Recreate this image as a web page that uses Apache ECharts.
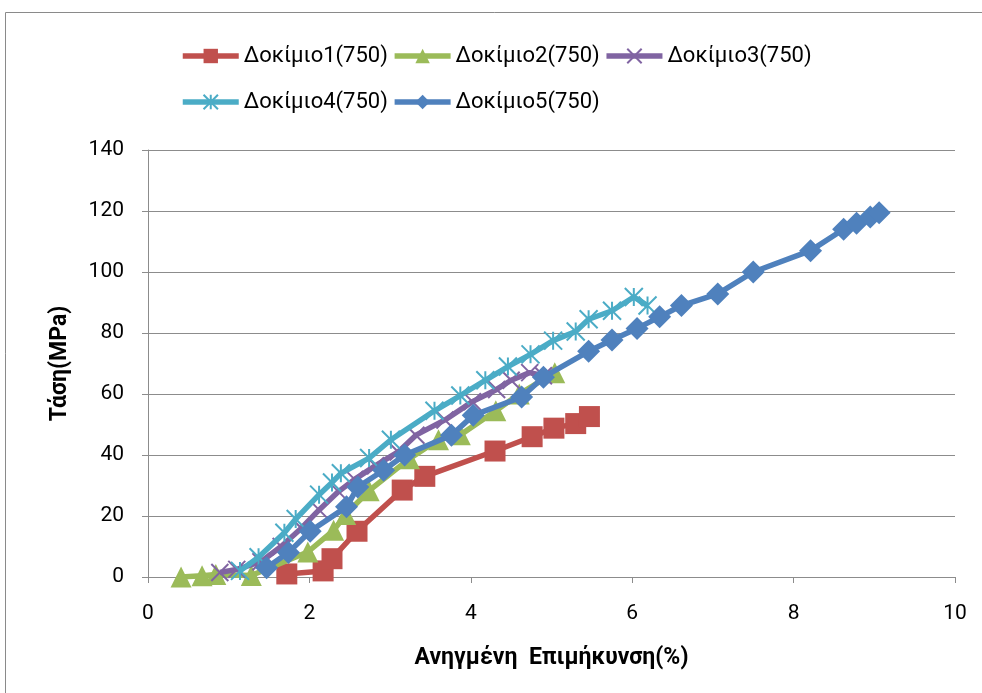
<!DOCTYPE html>
<html>
<head>
<meta charset="utf-8">
<script src="https://cdn.jsdelivr.net/npm/echarts@6/dist/echarts.min.js"></script>
<style>
  html, body { margin: 0; padding: 0; background: #ffffff; }
  #chart { width: 982px; height: 693px; }
</style>
</head>
<body>
<div id="chart"></div>
<script>
// Tensile test curves: stress vs. normalised elongation for five specimens
const seriesNames = ['Δοκίμιο1(750)', 'Δοκίμιο2(750)', 'Δοκίμιο3(750)', 'Δοκίμιο4(750)', 'Δοκίμιο5(750)'];

const specimen1 = [[1.72, 1], [2.17, 2], [2.28, 6], [2.59, 15], [3.15, 28.5], [3.43, 33], [4.30, 41.3], [4.76, 46], [5.03, 48.8], [5.30, 50.3], [5.47, 52.6]];
const specimen2 = [[0.41, 0], [0.67, 0.4], [0.84, 0.8], [1.28, 0.5], [1.98, 8.2], [2.30, 15.3], [2.45, 20.5], [2.74, 28.3], [3.24, 38.8], [3.60, 45], [3.87, 46.6], [4.31, 54.5], [4.60, 60], [5.04, 67]];
const specimen3 = [[0.89, 1.5], [1.10, 2.5], [1.40, 5], [1.65, 10], [1.90, 16], [2.12, 22], [2.36, 28], [2.56, 32], [2.82, 36.5], [3.10, 41], [3.32, 46.5], [3.68, 51.5], [4.02, 57.5], [4.32, 61.5], [4.50, 64.5], [4.73, 67], [4.90, 66]];
const specimen4 = [[1.14, 2], [1.37, 6.5], [1.69, 14.5], [1.83, 19], [2.12, 27], [2.28, 31], [2.39, 34], [2.74, 39], [3.01, 45], [3.55, 54.5], [3.87, 59.5], [4.18, 64.5], [4.46, 69], [4.74, 73], [5.02, 77.5], [5.30, 80.5], [5.46, 84.5], [5.75, 87.3], [6.02, 91.8], [6.19, 89]];
const specimen5 = [[1.47, 3], [1.74, 8], [2.01, 15], [2.46, 23], [2.60, 29.5], [2.92, 35], [3.18, 40], [3.76, 46.5], [4.03, 53], [4.63, 59], [4.90, 65.5], [5.46, 74], [5.75, 77.7], [6.06, 81.5], [6.34, 85.3], [6.61, 89], [7.06, 92.8], [7.50, 100], [8.21, 107], [8.62, 114], [8.78, 116], [8.95, 118], [9.06, 119.4]];

const xTicks = { min: 0, max: 10, interval: 2 };
const yTicks = { min: 0, max: 140, interval: 20 };

const colors = ['#C0504D', '#9BBB59', '#8064A2', '#4BACC6', '#4F81BD'];
const symbols = [
  'rect',
  'triangle',
  'path://M0,0L10,10M10,0L0,10',
  'path://M5,0L5,10M0,0L10,10M10,0L0,10',
  'diamond'
];
const symbolSizes = [21, 21, 17, 18, 23];
const strokeSymbol = [false, false, true, true, false];
const dataSets = [specimen1, specimen2, specimen3, specimen4, specimen5];

const font = 'Roboto, "Noto Sans", sans-serif';
const gridColor = '#8c8c8c';

const chart = echarts.init(document.getElementById('chart'));

const series = dataSets.map((d, i) => ({
  name: seriesNames[i],
  type: 'line',
  data: d,
  symbol: symbols[i],
  symbolSize: symbolSizes[i],
  showAllSymbol: true,
  lineStyle: { color: colors[i], width: 5.5 },
  itemStyle: strokeSymbol[i]
    ? { color: 'rgba(0,0,0,0)', borderColor: colors[i], borderWidth: 2, opacity: 1 }
    : { color: colors[i], borderColor: colors[i], borderWidth: 0 },
  emphasis: { disabled: true },
  animation: false,
  z: 2 + i
}));

const legendText = { fontFamily: font, fontSize: 22, color: '#000' };
const legendCommon = {
  padding: 0,
  itemWidth: 56, itemHeight: 18, itemGap: 4,
  textStyle: legendText,
  lineStyle: { width: 5.5 },
  selectedMode: false
};

chart.setOption({
  backgroundColor: '#ffffff',
  animation: false,
  color: colors,
  graphic: [{
    type: 'rect',
    shape: { x: 5.5, y: 12.5, width: 1000, height: 700 },
    style: { fill: 'none', stroke: '#8a8a8a', lineWidth: 1 },
    silent: true
  }],
  legend: [
    Object.assign({ data: seriesNames.slice(0, 3), left: 180, top: 45 }, legendCommon),
    Object.assign({ data: seriesNames.slice(3), left: 180, top: 91 }, legendCommon)
  ],
  grid: { left: 148, right: 27, top: 150, bottom: 116, containLabel: false },
  xAxis: {
    type: 'value',
    min: xTicks.min, max: xTicks.max, interval: xTicks.interval,
    name: 'Ανηγμένη  Επιμήκυνση(%)',
    nameLocation: 'middle',
    nameGap: 70,
    nameTextStyle: { fontFamily: font, fontSize: 23, fontWeight: 'bold', color: '#000' },
    axisLine: { show: true, onZero: false, lineStyle: { color: gridColor, width: 1 } },
    axisTick: { show: true, inside: false, length: 6, lineStyle: { color: gridColor } },
    axisLabel: { fontFamily: font, fontSize: 21, color: '#000', margin: 26 },
    splitLine: { show: false }
  },
  yAxis: {
    type: 'value',
    min: yTicks.min, max: yTicks.max, interval: yTicks.interval,
    name: 'Τάση(MPa)',
    nameLocation: 'middle',
    nameRotate: 90,
    nameGap: 76,
    nameTextStyle: { fontFamily: font, fontSize: 23, fontWeight: 'bold', color: '#000' },
    axisLine: { show: true, lineStyle: { color: gridColor, width: 1 } },
    axisTick: { show: true, inside: false, length: 6, lineStyle: { color: gridColor } },
    axisLabel: { fontFamily: font, fontSize: 21, color: '#000', margin: 24 },
    splitLine: { show: true, lineStyle: { color: gridColor, width: 1.2 } }
  },
  series: series
});
</script>
</body>
</html>
